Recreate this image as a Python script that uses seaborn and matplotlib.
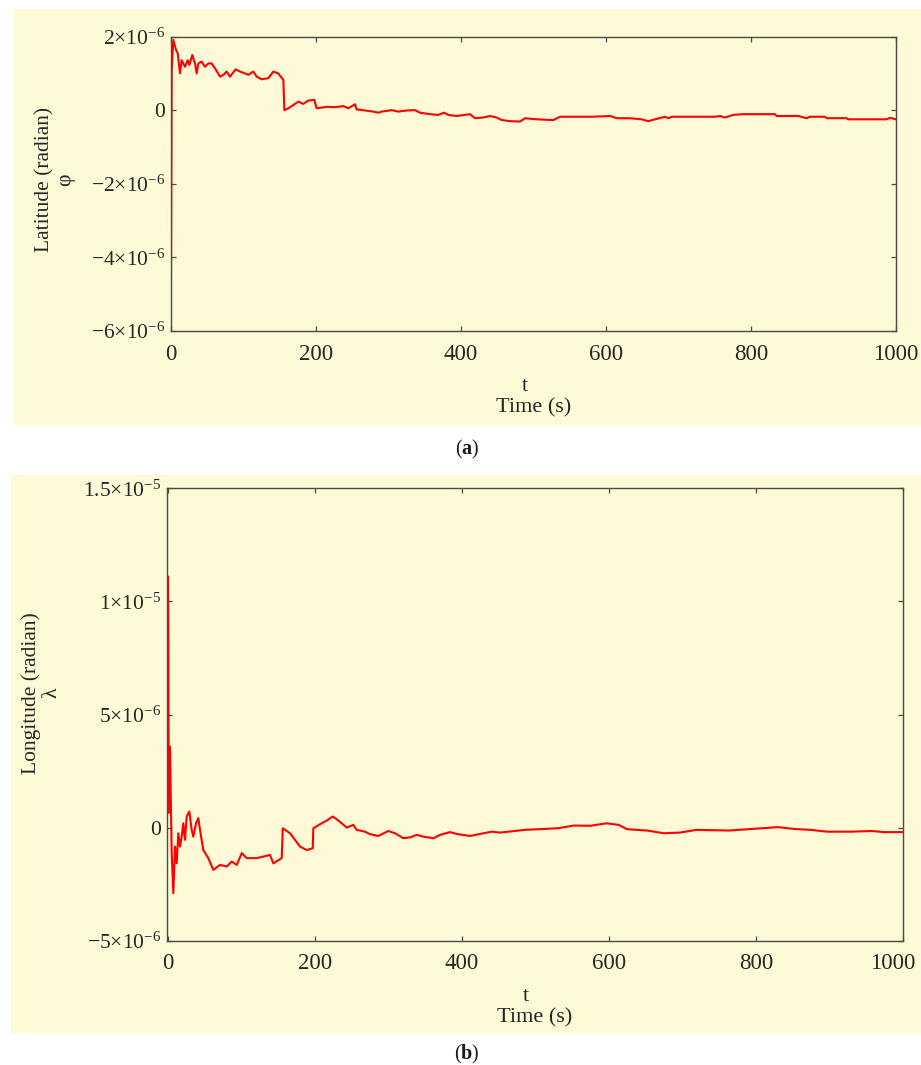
"""
plot.py — latitude / longitude error vs time, two stacked panels.
"""

import matplotlib
matplotlib.use("Agg")
import matplotlib.pyplot as plt
from matplotlib.patches import Rectangle
from matplotlib.transforms import ScaledTranslation
import seaborn as sns

# ── Data (values in units of 1e-6 rad) ────────────────────────────────────────
LAT_T = [0, 1, 3.2, 6.9, 9.2, 12.4, 14.7, 19.3, 23.0, 25.3, 29.4, 33.1, 35.4, 37.7,
         42.3, 46.9, 51.5, 56.0, 60.7, 67.6, 72.2, 76.8, 81.4, 89.2, 95.2, 102.0,
         106.7, 113.6, 118.2, 125.0, 134.3, 141.1, 148.0, 155.0, 156.3, 161.8,
         175.6, 182.5, 189.4, 197.7, 200.9, 214.8, 226.2, 237.7, 244.6, 253.8,
         256.1, 267.6, 279.0, 286.0, 290.6, 304.4, 313.5, 325.0, 336.6, 343.4,
         357.2, 368.7, 376.6, 382.5, 394.0, 412.4, 419.3, 430.8, 440.0, 449.2,
         456.1, 467.6, 481.4, 488.3, 504.4, 527.3, 536.6, 580.3, 605.5, 614.8,
         633.1, 649.2, 658.4, 667.6, 681.4, 686.0, 690.6, 750.3, 757.2, 764.1,
         775.6, 789.4, 833.1, 835.4, 865.2, 876.8, 881.4, 902.0, 904.4, 932.0,
         934.2, 987.2, 991.7, 1000]
LAT_V = [-4.48, 1.10, 1.92, 1.65, 1.56, 1.01, 1.37, 1.19, 1.37, 1.24, 1.51, 1.28, 1.01, 1.28,
         1.33, 1.19, 1.28, 1.28, 1.15, 0.92, 0.97, 1.06, 0.92, 1.12, 1.06, 1.01,
         0.97, 1.06, 0.92, 0.85, 0.88, 1.06, 1.01, 0.83, 0.01, 0.06,
         0.24, 0.18, 0.27, 0.29, 0.06, 0.10, 0.09, 0.12, 0.06, 0.17,
         0.03, 0.00, -0.03, -0.06, -0.03, 0.01, -0.03, 0.00, 0.01, -0.06,
         -0.10, -0.12, -0.06, -0.12, -0.15, -0.10, -0.21, -0.19, -0.15, -0.19,
         -0.26, -0.29, -0.30, -0.21, -0.24, -0.26, -0.17, -0.17, -0.15, -0.21,
         -0.21, -0.24, -0.29, -0.24, -0.17, -0.21, -0.17, -0.17, -0.15, -0.19,
         -0.12, -0.10, -0.10, -0.15, -0.15, -0.21, -0.17, -0.17, -0.21, -0.21,
         -0.24, -0.24, -0.20, -0.24]

LON_T = [0, 0.5, 1.0, 2.7, 4.1, 5.0, 7.2, 9.5, 11.8, 14.0, 16.3, 18.6, 20.8, 23.1,
         25.4, 29.0, 32.2, 34.4, 38.1, 41.2, 43.5, 48.0, 54.8, 61.6, 70.7, 79.9,
         86.7, 93.5, 100.3, 107.1, 120.7, 129.7, 138.8, 143.3, 154.7, 156.1,
         166.0, 179.6, 188.7, 196.9, 197.7, 206.8, 215.9, 224.1, 229.5, 236.3,
         243.1, 252.1, 256.7, 268.0, 274.8, 286.1, 299.7, 308.8, 320.1, 329.3,
         338.4, 347.3, 361.0, 370.1, 383.7, 392.8, 410.9, 424.5, 440.4, 451.7,
         485.6, 530.1, 552.2, 574.4, 596.6, 613.3, 624.4, 652.1, 674.4, 696.6,
         718.8, 763.3, 807.6, 829.8, 852.1, 874.3, 896.5, 929.8, 957.6, 974.1, 1000]
LON_V = [11.1, 8.4, 0.65, 3.58, 0.64, -1.12, -2.90, -0.84, -1.58, -0.25, -0.84, -0.40, 0.19, -0.54,
         0.49, 0.71, -0.10, -0.40, 0.19, 0.42, -0.10, -0.99, -1.35, -1.87, -1.65, -1.72,
         -1.50, -1.65, -1.13, -1.35, -1.35, -1.28, -1.21, -1.58, -1.35, -0.03,
         -0.25, -0.84, -0.99, -0.91, -0.03, 0.15, 0.31, 0.49, 0.37, 0.19,
         0.00, 0.12, -0.10, -0.18, -0.29, -0.37, -0.15, -0.25, -0.47, -0.43,
         -0.32, -0.40, -0.47, -0.32, -0.20, -0.28, -0.37, -0.28, -0.18, -0.22,
         -0.10, -0.03, 0.09, 0.08, 0.19, 0.12, -0.07, -0.13, -0.25, -0.22,
         -0.10, -0.13, -0.03, 0.02, -0.06, -0.10, -0.18, -0.18, -0.15, -0.20, -0.20]

X_TICKS = [0, 200, 400, 600, 800, 1000]
LAT_YTICKS = [-6e-6, -4e-6, -2e-6, 0, 2e-6]
LAT_YLABELS = [r"$-6{\times}10^{-6}$", r"$-4{\times}10^{-6}$", r"$-2{\times}10^{-6}$",
               "0", r"$2{\times}10^{-6}$"]
LON_YTICKS = [-5e-6, 0, 5e-6, 1e-5, 1.5e-5]
LON_YLABELS = [r"$-5{\times}10^{-6}$", "0", r"$5{\times}10^{-6}$",
               r"$1{\times}10^{-5}$", r"$1.5{\times}10^{-5}$"]

assert len(LAT_T) == len(LAT_V) and len(LON_T) == len(LON_V)

# ── Style ─────────────────────────────────────────────────────────────────────
BG = "#fef9d6"
SPINE = "#4a4a4a"
sns.set_style("ticks")
plt.rcParams.update({
    "font.family": ["Liberation Serif", "DejaVu Serif"],
    "mathtext.fontset": "custom",
    "mathtext.rm": "Liberation Serif",
    "mathtext.it": "Liberation Serif:italic",
    "mathtext.bf": "Liberation Serif:bold",
    "font.size": 15,
    "text.color": "#1a1a1a",
})

W, H = 921, 1065
fig = plt.figure(figsize=(W / 100, H / 100), dpi=100)


def px_rect(x0, y0, x1, y1):
    """pixel box (top-left origin) -> figure fraction [l, b, w, h]"""
    return [x0 / W, 1 - y1 / H, (x1 - x0) / W, (y1 - y0) / H]


# pale yellow panel backgrounds (behind the axes)
for box in [(14, 9, 921, 425), (11, 475, 921, 1033)]:
    l, b, w, h = px_rect(*box)
    fig.patches.append(Rectangle((l, b), w, h, transform=fig.transFigure,
                                 facecolor=BG, edgecolor="none", zorder=-5))


def style_axes(ax, yticks, ylabels, xlim, ylim, ylabel, label_xy):
    ax.set_facecolor(BG)
    ax.set_xlim(*xlim)
    ax.set_ylim(*ylim)
    ax.set_xticks(X_TICKS)
    ax.set_xticklabels([str(t) for t in X_TICKS])
    ax.set_yticks(yticks)
    ax.set_yticklabels(ylabels)
    ax.tick_params(direction="in", top=True, right=True, length=3.5,
                   width=0.9, color=SPINE)
    ax.tick_params(axis="x", pad=9, labelsize=16.5)
    ax.tick_params(axis="y", pad=4, labelsize=15.5)
    for s in ax.spines.values():
        s.set_color(SPINE)
        s.set_linewidth(1.0)
    ax.set_xlabel("t   \nTime (s)", fontsize=16, labelpad=9, linespacing=1.15)
    ax.set_ylabel(ylabel, fontsize=15.5, linespacing=1.1)
    ax.yaxis.set_label_coords(*label_xy)


# ── (a) latitude ──────────────────────────────────────────────────────────────
ax1 = fig.add_axes(px_rect(171, 37, 896, 331))
sns.lineplot(x=LAT_T, y=[v * 1e-6 for v in LAT_V], ax=ax1, color="#ff0000",
             linewidth=1.5, estimator=None, sort=False)
style_axes(ax1, LAT_YTICKS, LAT_YLABELS, (0, 1000), (-6e-6, 2e-6),
           "Latitude (radian)\nφ", (-0.132, 0.514))

# ── (b) longitude ─────────────────────────────────────────────────────────────
ax2 = fig.add_axes(px_rect(166.7, 488.3, 903, 940.7))
sns.lineplot(x=LON_T, y=[v * 1e-6 for v in LON_V], ax=ax2, color="#ff0000",
             linewidth=1.5, estimator=None, sort=False)
style_axes(ax2, LON_YTICKS, LON_YLABELS, (-1.8, 1000), (-5e-6, 1.5e-5),
           "Longitude (radian)\nλ", (-0.1436, 0.548))

# last x label on (b) sits a little left of its tick so it stays on the page
last = ax2.get_xticklabels()[-1]
last.set_transform(last.get_transform() + ScaledTranslation(-0.10, 0, fig.dpi_scale_trans))

fig.text(467 / W, 1 - 449 / H, r"($\mathbf{a}$)", ha="center", va="center", fontsize=14.5)
fig.text(467 / W, 1 - 1054 / H, r"($\mathbf{b}$)", ha="center", va="center", fontsize=14.5)

fig.savefig("out.png", dpi=100, facecolor="white")
